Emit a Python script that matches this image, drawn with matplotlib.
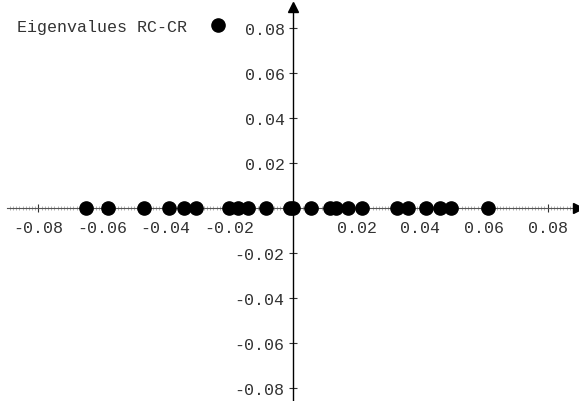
import numpy as np
import matplotlib.pyplot as plt
from matplotlib.ticker import FixedLocator

eig_re = [-0.0651, -0.0582, -0.0468, -0.0390, -0.0343, -0.0305, -0.0201,
          -0.0173, -0.0141, -0.0085, -0.0009, 0.0, 0.0057, 0.0116, 0.0135,
          0.0173, 0.0217, 0.0327, 0.0362, 0.0418, 0.0462, 0.0497, 0.0613]
eig_im = [0.0] * len(eig_re)
series_label = "Eigenvalues RC-CR"
x_ticks = [-0.08, -0.06, -0.04, -0.02, 0.02, 0.04, 0.06, 0.08]
y_ticks = [-0.08, -0.06, -0.04, -0.02, 0.02, 0.04, 0.06, 0.08]

plt.rcParams['font.family'] = ['Liberation Mono', 'DejaVu Sans Mono']
plt.rcParams['font.size'] = 12

fig = plt.figure(figsize=(5.79, 4.02), dpi=100)
ax = fig.add_axes([0, 0, 1, 1])

ax.plot(eig_re, eig_im, 'o', color='black', markersize=9.5, label=series_label,
        zorder=5, clip_on=False)

ax.set_xlim(-0.0921, 0.0899)
ax.set_ylim(-0.0858, 0.0929)

# axes through the origin, Mathematica style
for s in ['top', 'right']:
    ax.spines[s].set_visible(False)
ax.spines['left'].set_position('zero')
ax.spines['bottom'].set_position('zero')
ax.spines['left'].set_bounds(-0.0858, 0.0893)
ax.spines['bottom'].set_bounds(-0.0899, 0.0895)
ax.spines['left'].set_linewidth(1.0)
ax.spines['bottom'].set_linewidth(0.8)
ax.spines['bottom'].set_color('#555555')

# arrow heads
ax.plot(0.0895, 0, '>', color='black', markersize=7, clip_on=False, zorder=6)
ax.plot(0, 0.0893, '^', color='black', markersize=7, clip_on=False, zorder=6)

ax.set_xticks(x_ticks)
ax.set_yticks(y_ticks)
ax.set_xticklabels(['%.2f' % v for v in x_ticks])
ax.set_yticklabels(['%.2f' % v for v in y_ticks])
minor = [round(v, 3) for v in np.arange(-0.089, 0.0885, 0.001)]
ax.xaxis.set_minor_locator(FixedLocator(minor))
ax.tick_params(axis='both', which='major', direction='inout', length=6, width=0.8, color='#333333')
ax.tick_params(axis='x', which='minor', direction='inout', length=2.5, width=0.4, color='#777777')
ax.tick_params(axis='x', which='major', pad=6)
ax.tick_params(axis='y', which='major', pad=3)
for lab in ax.get_xticklabels() + ax.get_yticklabels():
    lab.set_color('#333333')

ax.legend(loc='upper left', bbox_to_anchor=(0.018, 0.968), markerfirst=False,
          frameon=False, handletextpad=1.35, borderaxespad=0, handlelength=1.0,
          fontsize=12, labelcolor='#333333')

fig.savefig('out.png', dpi=100)
